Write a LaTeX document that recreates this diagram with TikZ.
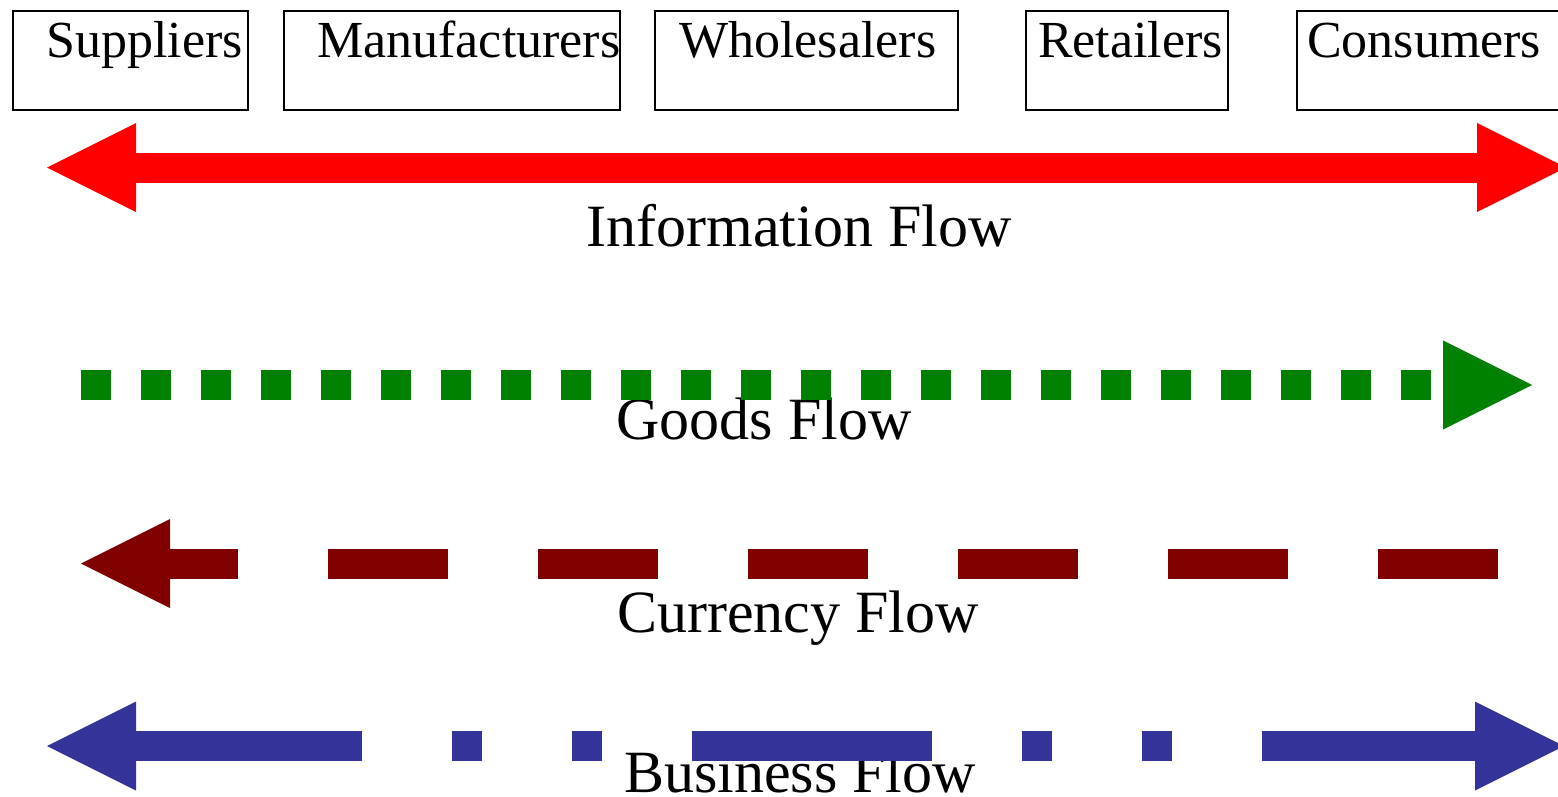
\documentclass[tikz,border=0pt]{standalone}
\usepackage{fontspec}
\setmainfont{Liberation Serif}
\usetikzlibrary{arrows.meta}
\definecolor{infored}{HTML}{FF0000}
\definecolor{goodsgreen}{HTML}{008000}
\definecolor{currmaroon}{HTML}{800000}
\definecolor{busblue}{HTML}{333399}
\begin{document}
\begin{tikzpicture}[x=1pt,y=-1pt,
  actor/.style={draw=black, line width=2pt, anchor=north west, inner sep=0pt, minimum height=99pt},
  actorlabel/.style={anchor=base west, inner sep=0pt, font=\fontsize{52}{60}\selectfont},
  flowlabel/.style={anchor=base, inner sep=0pt, font=\fontsize{60}{70}\selectfont},
  flow/.style={line width=30pt},
  bighead/.tip={Triangle[length=89pt, width=89pt, line width=0pt]}]
\useasboundingbox (0,0) rectangle (1558,796);
% actor boxes
\node[actor, minimum width=235pt] (sup) at (12,10) {};
\node[actor, minimum width=336pt] (man) at (283,10) {};
\node[actor, minimum width=303pt] (who) at (654,10) {};
\node[actor, minimum width=202pt] (ret) at (1025,10) {};
\node[actor, minimum width=300pt] (con) at (1296,10) {};
\node[actorlabel] (supL) at (46,57) {Suppliers};
\node[actorlabel] (manL) at (317,57) {Manufacturers};
\node[actorlabel] (whoL) at (679,57) {Wholesalers};
\node[actorlabel] (retL) at (1038,57) {Retailers};
\node[actorlabel] (conL) at (1307,57) {Consumers};
% flow labels
\node[flowlabel] (infoT) at (799,246) {Information Flow};
\node[flowlabel] (goodsT) at (764,439) {Goods Flow};
\node[flowlabel] (currT) at (798,632) {Currency Flow};
\node[flowlabel] (busT) at (800,792) {Business Flow};
% flow ends
\coordinate (infoL) at (47,167.5);
\coordinate (infoR) at (1566,167.5);
\coordinate (goodsS) at (81,385);
\coordinate (goodsE) at (1532,385);
\coordinate (currS) at (1498,563.5);
\coordinate (currE) at (81,563.5);
\coordinate (busL) at (47,746);
\coordinate (busR) at (1564,746);
% flows
\draw[flow, infored, bighead-bighead] (infoL) -- (infoR);
\draw[flow, goodsgreen, dash pattern=on 30pt off 30pt, -bighead] (goodsS) -- (goodsE);
\draw[flow, currmaroon, dash pattern=on 120pt off 90pt, -bighead] (currS) -- (currE);
\draw[flow, busblue, dash pattern=on 240pt off 90pt on 30pt off 90pt on 30pt off 90pt, dash phase=14pt, bighead-bighead] (busL) -- (busR);
\end{tikzpicture}
\end{document}
